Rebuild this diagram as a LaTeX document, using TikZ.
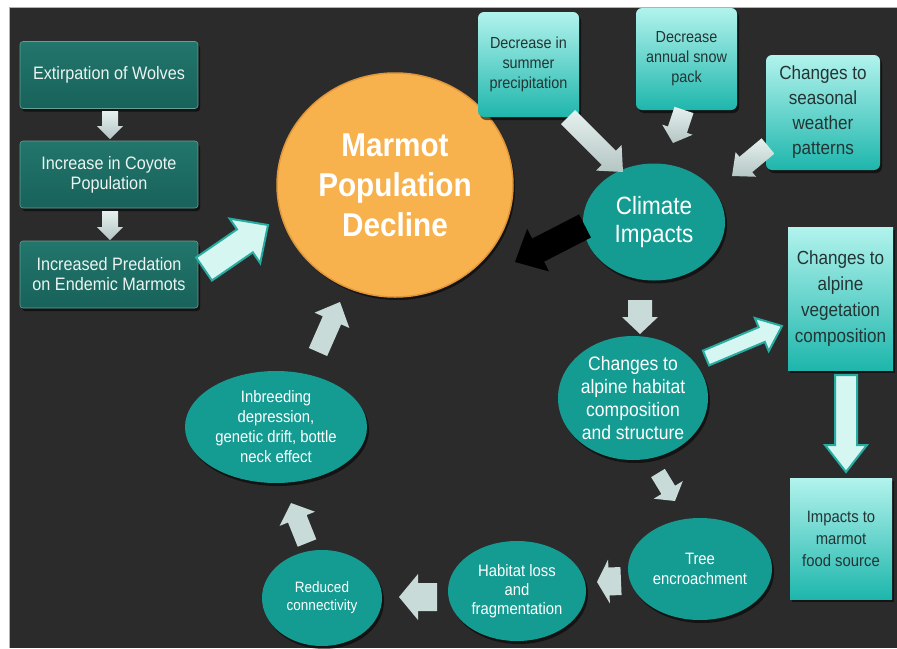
\documentclass[tikz,border=0pt]{standalone}
\usepackage{fontspec}
\setmainfont{Liberation Sans}[FakeStretch=0.9]
\usetikzlibrary{calc,shapes.geometric,shadows}

\definecolor{bg}{RGB}{43,43,43}
\definecolor{orng}{RGB}{247,177,77}
\definecolor{orngedge}{RGB}{224,150,58}
\definecolor{tealE}{RGB}{20,156,146}
\definecolor{tealDk}{RGB}{34,118,108}
\definecolor{tealDk2}{RGB}{24,98,90}
\definecolor{boxTop}{RGB}{178,243,237}
\definecolor{boxBot}{RGB}{30,182,172}
\definecolor{boxTxt}{RGB}{35,52,52}
\definecolor{lightTxt}{RGB}{236,244,242}
\definecolor{arrCyan}{RGB}{214,246,242}
\definecolor{arrEdge}{RGB}{38,172,160}
\definecolor{arrGrey}{RGB}{200,219,216}
\definecolor{arrPale}{RGB}{212,232,229}

\newcommand\blockarr[6][]{% style, tail, tip, shaft half, head half, head length
  \coordinate (bamid) at ($(#3)!#6pt!(#2)$);
  \path[#1] ($(#2)!#4pt!90:(#3)$) -- ($(bamid)!#4pt!90:(#3)$)
    -- ($(bamid)!#5pt!90:(#3)$) -- (#3) -- ($(bamid)!#5pt!-90:(#3)$)
    -- ($(bamid)!#4pt!-90:(#3)$) -- ($(#2)!#4pt!-90:(#3)$) -- cycle;
}

\tikzset{
  shad/.style={drop shadow={shadow xshift=2pt, shadow yshift=-3pt, fill=black, opacity=0.55}},
  ell/.style={ellipse, fill=tealE, inner sep=0pt, text=white, align=center, shad},
  lbox/.style={rectangle, rounded corners=3pt, top color=tealDk, bottom color=tealDk2,
    draw=tealDk!70!white, line width=0.6pt, inner sep=0pt, text=lightTxt, align=center,
    minimum width=178pt, minimum height=67pt, font=\fontsize{18}{20}\selectfont, shad},
  cbox/.style={rectangle, rounded corners=6pt, top color=boxTop, bottom color=boxBot,
    text=boxTxt, align=center, inner sep=0pt, shad},
  sqbox/.style={cbox, rounded corners=0pt},
  cyanarr/.style={fill=arrCyan, draw=arrEdge, line width=2pt, line join=miter},
  greyarr/.style={fill=arrGrey},
  palearr/.style={top color=arrPale!60!white, bottom color=arrPale!85!black},
  blackarr/.style={fill=black}
}

\begin{document}
\begin{tikzpicture}[x=1pt,y=-1pt]
\useasboundingbox (0,0) rectangle (897,648);
\fill[white] (0,0) rectangle (897,648);
\fill[bg] (9,7) rectangle (897,648);
\draw[gray!60, line width=0.6pt] (9,648) -- (9,7) -- (897,7);

% left chain
\node[lbox] (w1) at (109,75) {Extirpation of Wolves};
\node[lbox] (w2) at (109,174.5) {Increase in Coyote\\Population};
\node[lbox] (w3) at (109,274.5) {Increased Predation\\on Endemic Marmots};

% central circle
\node[ellipse, fill=orng, draw=orngedge, line width=1.5pt, minimum width=236pt, minimum height=224pt,
  inner sep=0pt, text=white, align=center, font=\bfseries\fontsize{33}{40}\selectfont, shad]
  (marmot) at (395,185) {Marmot\\Population\\Decline};

% top boxes
\node[cbox, minimum width=101pt, minimum height=105pt, font=\fontsize{16}{20}\selectfont]
  (precip) at (528.5,64.5) {Decrease in\\summer\\precipitation};
\node[cbox, minimum width=101pt, minimum height=102pt, font=\fontsize{16}{20}\selectfont]
  (snow) at (686.5,59) {Decrease\\annual snow\\pack};
\node[cbox, minimum width=114pt, minimum height=115pt, font=\fontsize{19}{25}\selectfont]
  (weather) at (823,112.5) {Changes to\\seasonal\\weather\\patterns};

% right boxes
\node[sqbox, minimum width=105pt, minimum height=143pt, font=\fontsize{19}{26}\selectfont]
  (veg) at (840.5,298.5) {Changes to\\alpine\\vegetation\\composition};
\node[sqbox, minimum width=102pt, minimum height=121pt, font=\fontsize{16.5}{22}\selectfont]
  (food) at (841,538.5) {Impacts to\\marmot\\food source};

% ellipses
\node[ell, minimum width=142pt, minimum height=117pt, font=\fontsize{25}{28}\selectfont]
  (climate) at (654,222) {Climate\\Impacts};
\node[ell, minimum width=150pt, minimum height=124pt, font=\fontsize{19.5}{23}\selectfont]
  (habitat) at (633,398) {Changes to\\alpine habitat\\composition\\and structure};
\node[ell, minimum width=144pt, minimum height=102pt, font=\fontsize{16.5}{20}\selectfont]
  (tree) at (700,569) {Tree\\encroachment};
\node[ell, minimum width=138pt, minimum height=100pt, font=\fontsize{16.5}{19}\selectfont]
  (loss) at (517,591) {Habitat loss\\and\\fragmentation};
\node[ell, minimum width=120pt, minimum height=96pt, font=\fontsize{15}{18}\selectfont]
  (reduced) at (322,598) {Reduced\\connectivity};
\node[ell, minimum width=182pt, minimum height=112pt, font=\fontsize{16.5}{20}\selectfont]
  (inbreed) at (276,427) {Inbreeding\\depression,\\genetic drift, bottle\\neck effect};

% arrow end points
\coordinate (a1s) at (110,111);  \coordinate (a1e) at (110,139);
\coordinate (a2s) at (110,211);  \coordinate (a2e) at (110,240);
\coordinate (a3s) at (204,269);  \coordinate (a3e) at (268,225);
\coordinate (a4s) at (568,117);  \coordinate (a4e) at (623,172);
\coordinate (a5s) at (684,110);  \coordinate (a5e) at (673,143);
\coordinate (a6s) at (768,146);  \coordinate (a6e) at (732,176);
\coordinate (a7s) at (585,226);  \coordinate (a7e) at (515,262);
\coordinate (a8s) at (640,300);  \coordinate (a8e) at (640,334);
\coordinate (a9s) at (706,358);  \coordinate (a9e) at (782,326);
\coordinate (a10s) at (846,375); \coordinate (a10e) at (846,472);
\coordinate (a11s) at (658,473); \coordinate (a11e) at (675,501);
\coordinate (a12s) at (621,581); \coordinate (a12e) at (597,582);
\coordinate (a13s) at (437,597); \coordinate (a13e) at (399,597);
\coordinate (a14s) at (307,543); \coordinate (a14e) at (291,503);
\coordinate (a15s) at (318,352); \coordinate (a15e) at (340,302);

\blockarr[palearr]{a1s}{a1e}{8}{13}{13}
\blockarr[palearr]{a2s}{a2e}{8}{13}{13}
\blockarr[cyanarr]{a3s}{a3e}{14}{27}{28}
\blockarr[palearr]{a4s}{a4e}{10}{18}{20}
\blockarr[palearr]{a5s}{a5e}{10}{16}{14}
\blockarr[palearr]{a6s}{a6e}{10}{16}{18}
\blockarr[blackarr]{a7s}{a7e}{13}{24}{26}
\blockarr[greyarr]{a8s}{a8e}{12}{18}{17}
\blockarr[cyanarr]{a9s}{a9e}{8}{18}{22}
\blockarr[cyanarr]{a10s}{a10e}{11}{21}{27}
\blockarr[greyarr]{a11s}{a11e}{8}{17}{13}
\blockarr[greyarr]{a12s}{a12e}{14}{22}{12}
\blockarr[greyarr]{a13s}{a13e}{14}{23}{19}
\blockarr[greyarr]{a14s}{a14e}{10}{19}{17}
\blockarr[greyarr]{a15s}{a15e}{10}{19}{20}
\end{tikzpicture}
\end{document}
